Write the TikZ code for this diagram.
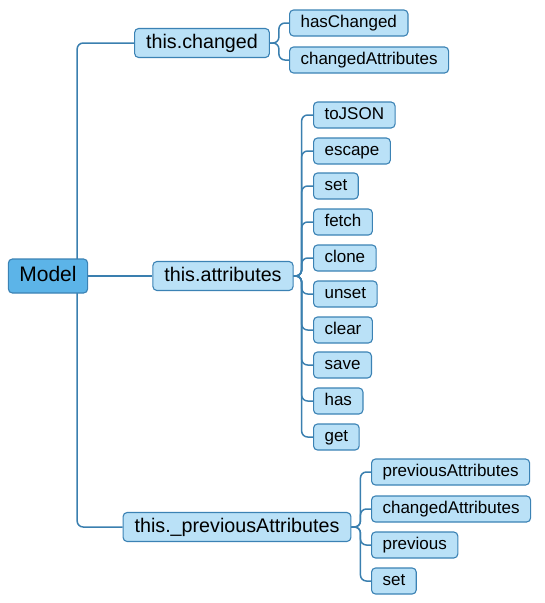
\documentclass[tikz,border=0pt]{standalone}
\usepackage{fontspec}
\setmainfont{Liberation Sans}
\usetikzlibrary{positioning,backgrounds}
\definecolor{leafBlue}{HTML}{BAE1F7}
\definecolor{rootBlue}{HTML}{5CB4E8}
\definecolor{edgeBlue}{HTML}{3B82B4}
\definecolor{linkBlue}{HTML}{3A7FAF}

\begin{document}
\begin{tikzpicture}[
  x=1pt, y=-1pt,
  %% Node styles
  leaf/.style={
    draw=edgeBlue, fill=leafBlue, line width=1.1pt,
    rounded corners=4pt, anchor=west,
    inner xsep=11pt, inner ysep=0pt, minimum height=26pt,
    text height=12pt, text depth=3.5pt,
    font=\fontsize{17}{19}\selectfont
  },
  member/.style={
    leaf, anchor=center, inner xsep=11.5pt, minimum height=29pt,
    text height=14pt, text depth=4pt,
    font=\fontsize{19.7}{22}\selectfont
  },
  root/.style={
    member, fill=rootBlue, minimum height=34pt,
    inner xsep=11pt, font=\fontsize{21}{24}\selectfont
  },
  %% Connector style
  link/.style={draw=linkBlue, line width=1.5pt, rounded corners=6pt},
]
\useasboundingbox (0,0) rectangle (545,603);

%% ── Root and its members ───────────────────────────────────────────────────
\node[root]   (model)   at (48,276)  {Model};
\node[member] (changed) at (202,43)  {this.changed};
\node[member] (attrs)   at (223,276) {this.attributes};
\node[member] (prev)    at (237,527) {this.\_previousAttributes};

%% ── this.changed ───────────────────────────────────────────────────────────
\node[leaf] (haschanged) at (289,23) {hasChanged};
\node[leaf] (chattrs)    at (289,60) {changedAttributes};

%% ── this.attributes ────────────────────────────────────────────────────────
\node[leaf] (tojson) at (313,115) {toJSON};
\node[leaf] (escape) at (313,151) {escape};
\node[leaf] (set)    at (313,186) {set};
\node[leaf] (fetch)  at (313,222) {fetch};
\node[leaf] (clone)  at (313,258) {clone};
\node[leaf] (unset)  at (313,294) {unset};
\node[leaf] (clear)  at (313,330) {clear};
\node[leaf] (save)   at (313,365) {save};
\node[leaf] (has)    at (313,401) {has};
\node[leaf] (get)    at (313,437) {get};

%% ── this._previousAttributes ──────────────────────────────────────────────
\node[leaf] (prevattrs) at (371,472) {previousAttributes};
\node[leaf] (prevch)    at (371,509) {changedAttributes};
\node[leaf] (previous)  at (371,545) {previous};
\node[leaf] (prevset)   at (371,581) {set};

%% ── Connectors ────────────────────────────────────────────────────────────
\begin{scope}[on background layer]
  \coordinate (trunk) at ([xshift=-11pt]model.east);
  \draw[link] (model) -- (attrs);
  \draw[link] (trunk) |- (changed.west);
  \draw[link] (trunk) |- (prev.west);
  \foreach \c in {haschanged,chattrs}
    \draw[link] (changed.east) -- ++(9,0) |- (\c.west);
  \foreach \c in {tojson,escape,set,fetch,clone,unset,clear,save,has,get}
    \draw[link] (attrs.east) -- ++(8,0) |- (\c.west);
  \foreach \c in {prevattrs,prevch,previous,prevset}
    \draw[link] (prev.east) -- ++(9,0) |- (\c.west);
\end{scope}

\end{tikzpicture}
\end{document}
